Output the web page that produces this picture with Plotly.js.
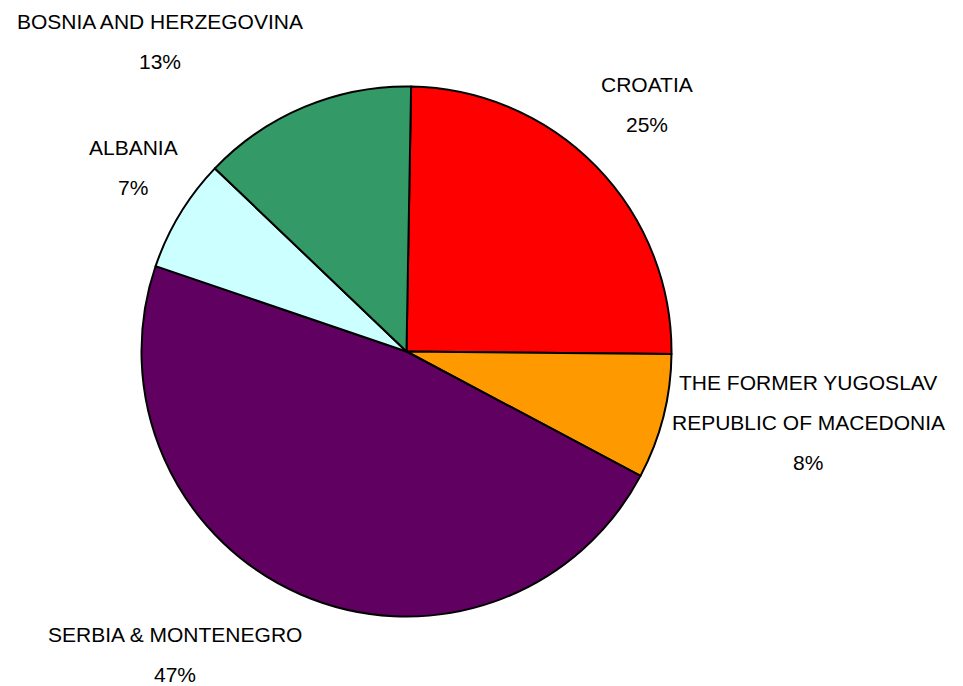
<!DOCTYPE html>
<html>
<head>
<meta charset="utf-8">
<script src="https://cdn.plot.ly/plotly-3.0.1.min.js"></script>
<style>
html,body{margin:0;padding:0;background:#fff;}
#chart{width:963px;height:686px;}
</style>
</head>
<body>
<div id="chart"></div>
<script>
// Data (clockwise from 12 o'clock)
var countries = ["CROATIA", "THE FORMER YUGOSLAV<br>REPUBLIC OF MACEDONIA", "SERBIA & MONTENEGRO", "ALBANIA", "BOSNIA AND HERZEGOVINA"];
var shares = [24.8, 7.6, 47.3, 6.9, 13.1];
var colors = ["#FF0000", "#FF9900", "#600060", "#CCFFFF", "#339966"];

// Label anchor positions in pixels (centre of first text line)
var W = 963, H = 686;
var labelPos = [[647, 84], [808, 382], [175, 634], [133, 148], [160, 22]];
var lineGap = 40;

var total = shares.reduce(function(a, b){ return a + b; }, 0);
var annotations = [];
countries.forEach(function(name, i){
  var lines = name.split("<br>");
  lines.push(Math.round(shares[i] / total * 100) + "%");
  lines.forEach(function(t, k){
    annotations.push({
      xref: "paper", yref: "paper",
      x: labelPos[i][0] / W,
      y: 1 - (labelPos[i][1] + k * lineGap) / H,
      xanchor: "center", yanchor: "middle",
      text: t, showarrow: false,
      font: {family: "Liberation Sans, Arial, sans-serif", size: 21, color: "#000"}
    });
  });
});

var cx = 406.5, cy = 351.5, r = 265;
var trace = {
  type: "pie",
  labels: countries,
  values: shares,
  sort: false,
  direction: "clockwise",
  rotation: 1,
  textinfo: "none",
  hoverinfo: "none",
  marker: {colors: colors, line: {color: "#000", width: 2}},
  domain: {
    x: [(cx - r) / W, (cx + r) / W],
    y: [(H - cy - r) / H, (H - cy + r) / H]
  }
};

var layout = {
  width: W, height: H,
  margin: {l: 0, r: 0, t: 0, b: 0},
  showlegend: false,
  paper_bgcolor: "#fff",
  annotations: annotations
};

Plotly.newPlot("chart", [trace], layout, {displayModeBar: false, staticPlot: true});
</script>
</body>
</html>
